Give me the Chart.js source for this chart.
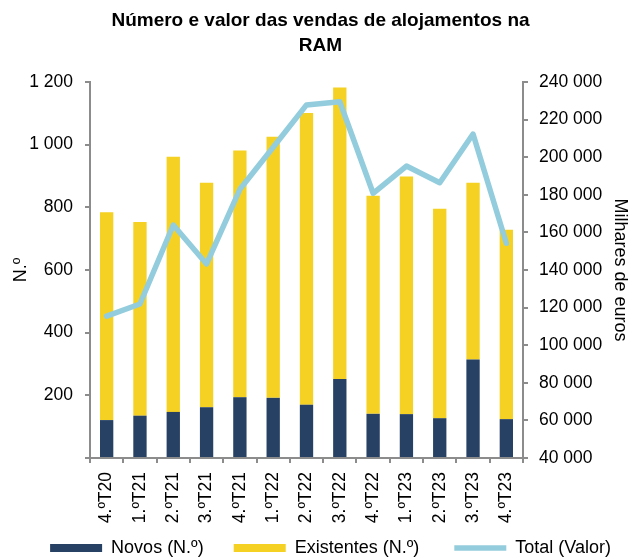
<!DOCTYPE html>
<html>
<head>
<meta charset="utf-8">
<script src="https://cdn.jsdelivr.net/npm/chart.js@4/dist/chart.umd.min.js"></script>
<style>
  html, body { margin: 0; padding: 0; background: #fff; overflow: hidden; }
  #wrap { width: 631px; height: 558px; }
</style>
</head>
<body>
<div id="wrap"><canvas id="chart"></canvas></div>
<script>
/* Número e valor das vendas de alojamentos na RAM — stacked bars (N.º) + line (valor) */

const categories = ['4.ºT20', '1.ºT21', '2.ºT21', '3.ºT21', '4.ºT21', '1.ºT22', '2.ºT22',
  '3.ºT22', '4.ºT22', '1.ºT23', '2.ºT23', '3.ºT23', '4.ºT23'];
const novos = [121, 135, 147, 162, 194, 192, 170, 252, 141, 140, 127, 314, 124];
const existentes = [663, 618, 814, 716, 787, 833, 931, 930, 696, 758, 668, 564, 604];
const totalValor = [115500, 121900, 163900, 143200, 182900, 205300, 227800, 229500,
  180800, 195300, 186400, 212300, 154200];

const NAVY = '#264163';
const YELLOW = '#F4D123';
const LIGHT_BLUE = '#93CDDD';
const AXIS = '#8C8C8C';
const TEXT = '#000';
const FONT = 'Liberation Sans, Arial, sans-serif';
const LEGEND_PAD = 15;
// extra trailing gap after each legend entry (non-breaking spaces)
const LEGEND_GAP = ['\u00A0\u00A0\u00A0', '\u00A0\u00A0\u00A0\u00A0', '\u00A0\u00A0\u00A0'];

const fmt = (v) => String(v).replace(/\B(?=(\d{3})+(?!\d))/g, ' ');

new Chart(document.getElementById('chart'), {
  type: 'bar',
  data: {
    labels: categories,
    datasets: [
      { label: 'Novos (N.º)', data: novos, backgroundColor: NAVY, stack: 's', yAxisID: 'y',
        barPercentage: 0.4, categoryPercentage: 1, pointStyle: 'rect', order: 2 },
      { label: 'Existentes (N.º)', data: existentes, backgroundColor: YELLOW, stack: 's', yAxisID: 'y',
        barPercentage: 0.4, categoryPercentage: 1, pointStyle: 'rect', order: 2 },
      { type: 'line', label: 'Total (Valor)', data: totalValor, yAxisID: 'y1',
        borderColor: LIGHT_BLUE, backgroundColor: LIGHT_BLUE, borderWidth: 5.5,
        borderCapStyle: 'round', borderJoinStyle: 'round', tension: 0,
        pointRadius: 0, pointStyle: 'line', order: 1 },
    ],
  },
  options: {
    responsive: true,
    maintainAspectRatio: false,
    animation: false,
    layout: { padding: { top: 0, left: 0, right: -10, bottom: -9 } },
    plugins: {
      title: {
        display: true,
        text: ['Número e valor das vendas de alojamentos na', 'RAM'],
        color: TEXT,
        font: { family: FONT, size: 19, weight: 'bold', lineHeight: 1.32 },
        padding: { top: 8.5, bottom: 23.3 },
      },
      legend: {
        position: 'bottom',
        align: 'end',
        labels: {
          color: TEXT,
          font: { family: FONT, size: 18 },
          usePointStyle: true,
          pointStyleWidth: 52,
          boxHeight: 8,
          padding: LEGEND_PAD,
          sort: (a, b) => a.datasetIndex - b.datasetIndex,
          generateLabels: (chart) => {
            const items = Chart.defaults.plugins.legend.labels.generateLabels(chart);
            items.forEach((it) => { it.text += LEGEND_GAP[it.datasetIndex]; });
            return items;
          },
        },
      },
      tooltip: { enabled: false },
    },
    scales: {
      x: {
        stacked: true,
        grid: { display: true, drawOnChartArea: false, color: AXIS, lineWidth: 2, tickLength: 5, offset: true },
        border: { color: AXIS, width: 2 },
        ticks: { color: TEXT, font: { family: FONT, size: 17.5 }, minRotation: 90, maxRotation: 90, padding: 9 },
        afterFit: (s) => { s.height = 567 - (18 + LEGEND_PAD + 10) - 458; },
      },
      y: {
        stacked: true,
        position: 'left',
        min: 0,
        max: 1200,
        grid: { display: true, drawOnChartArea: false, color: AXIS, lineWidth: 2, tickLength: 5 },
        border: { color: AXIS, width: 2 },
        ticks: { stepSize: 200, color: TEXT, font: { family: FONT, size: 17.5 }, padding: 12,
          callback: (v) => (v === 0 ? '' : fmt(v)) },
        title: { display: true, text: 'N.º', color: TEXT, font: { family: FONT, size: 18 },
          padding: { top: 10, bottom: 0 } },
        afterFit: (s) => { s.width = 90; },
      },
      y1: {
        position: 'right',
        min: 40000,
        max: 240000,
        grid: { display: true, drawOnChartArea: false, color: AXIS, lineWidth: 2, tickLength: 5 },
        border: { color: AXIS, width: 2 },
        ticks: { stepSize: 20000, color: TEXT, font: { family: FONT, size: 17.5 }, padding: 11,
          callback: (v) => fmt(v) },
        title: { display: true, text: 'Milhares de euros', color: TEXT, font: { family: FONT, size: 18 },
          padding: { top: 10, bottom: 0 } },
        afterFit: (s) => { s.width = 641 - 523; },
      },
    },
  },
});
</script>
</body>
</html>
